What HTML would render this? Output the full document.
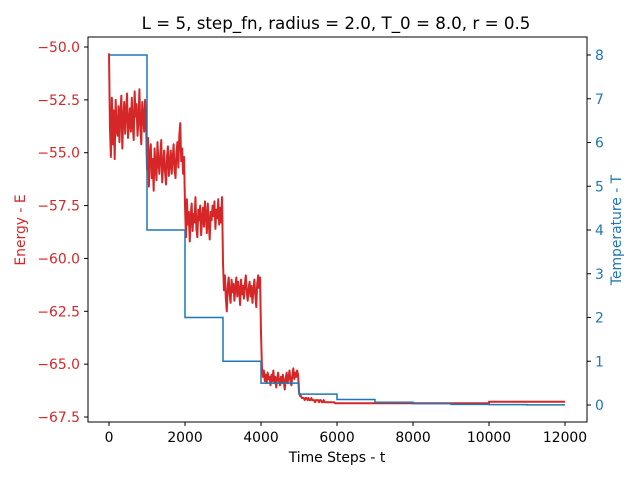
<!DOCTYPE html>
<html><head><meta charset="utf-8"><style>
body{margin:0;background:#fff;font-family:"DejaVu Sans","Liberation Sans",sans-serif}
svg text{font-family:"DejaVu Sans","Liberation Sans",sans-serif}
</style></head><body>
<svg id="chart" width="640" height="480" xmlns="http://www.w3.org/2000/svg">
<rect width="640" height="480" fill="#fff"/>
<text x="336" y="29" font-size="16.7" text-anchor="middle">L = 5, step_fn, radius = 2.0, T_0 = 8.0, r = 0.5</text>
<g id="plot"></g>
<rect x="88" y="37" width="499" height="385" fill="none" stroke="#000" stroke-width="1"/>
<text x="337" y="462" font-size="13.9" text-anchor="middle">Time Steps - t</text>
<text transform="translate(25,230) rotate(-90)" font-size="13.9" fill="#d62728" text-anchor="middle">Energy - E</text>
<text transform="translate(621,230) rotate(-90)" font-size="13.9" fill="#1f77b4" text-anchor="middle">Temperature - T</text>
</svg>
<script>
const xTicks=[0,2000,4000,6000,8000,10000,12000];
const eTicks=[-50,-52.5,-55,-57.5,-60,-62.5,-65,-67.5];
const eTickLabels=["−50.0","−52.5","−55.0","−57.5","−60.0","−62.5","−65.0","−67.5"];
const tTicks=[0,1,2,3,4,5,6,7,8];
const energyStep=25;
const energy=[
-50.3,-53.8,-55.2,-52.4,-54.6,-53.0,-55.3,-52.5,-53.9,-54.2,-52.8,-54.5,-53.1,-52.3,-54.8,-53.4,-52.6,-54.1,-53.0,-52.2,-54.3,-53.6,-52.9,-54.0,-52.4,-53.7,-54.4,-52.1,-53.3,-52.7,-54.2,-53.5,-52.0,-53.8,-54.6,-52.6,-53.2,-54.0,-52.5,-53.4,
-55.8,-54.3,-56.6,-55.0,-54.6,-56.2,-55.3,-56.8,-54.8,-55.7,-56.3,-54.5,-55.4,-56.0,-55.1,-54.4,-56.4,-55.6,-54.9,-55.9,-56.5,-55.2,-54.7,-56.1,-55.5,-54.9,-56.0,-55.3,-54.6,-55.8,-56.2,-55.0,-54.5,-55.7,-54.2,-53.6,-55.4,-54.8,-56.0,-55.2,
-57.5,-59.0,-57.2,-58.4,-57.8,-59.2,-58.0,-57.4,-58.7,-57.9,-58.3,-57.1,-58.6,-59.0,-57.7,-58.2,-57.5,-58.9,-58.1,-57.6,-58.5,-57.3,-58.0,-58.8,-57.4,-58.3,-59.1,-57.8,-58.2,-57.5,-58.0,-57.3,-58.6,-57.7,-58.1,-57.2,-58.4,-57.6,-58.3,-57.1,
-60.2,-61.5,-60.8,-61.9,-62.5,-61.3,-60.9,-61.7,-62.1,-61.0,-61.6,-61.2,-62.0,-61.4,-60.9,-61.8,-61.1,-61.5,-62.2,-61.0,-61.7,-61.3,-61.9,-61.2,-60.8,-61.6,-62.0,-61.4,-61.1,-61.8,-61.3,-62.1,-61.5,-61.0,-61.7,-62.3,-61.2,-60.8,-61.4,-60.9,
-63.5,-65.2,-65.6,-65.3,-65.8,-65.5,-65.9,-65.4,-65.7,-65.6,-66.0,-65.5,-65.8,-65.3,-65.9,-65.6,-66.1,-65.7,-65.4,-65.8,-66.0,-65.6,-65.9,-65.5,-65.8,-66.2,-65.7,-65.4,-65.9,-65.6,-65.3,-65.8,-66.0,-65.5,-65.2,-65.7,-65.4,-65.6,-65.3,-65.5,
-66.3,-66.5,-66.5,-66.6,-66.6,-66.6,-66.7,-66.6,-66.6,-66.7,-66.6,-66.7,-66.7,-66.6,-66.7,-66.7,-66.7,-66.8,-66.7,-66.7,-66.7,-66.8,-66.7,-66.7,-66.8,-66.8,-66.7,-66.8,-66.8,-66.8,-66.8,-66.8,-66.8,-66.8,-66.8,-66.8,-66.8,-66.8,-66.85,-66.85,
-66.85];
const tailTimes=[10000,10000,12000];
const tailValues=[-66.85,-66.78,-66.78];
const tempStarts=[0,1000,2000,3000,4000,5000,6000,7000,8000,9000,10000,11000];
const tempValues=[8,4,2,1,0.5,0.25,0.125,0.0625,0.03125,0.015625,0.0078125,0.00390625];
const tempEnd=12000;

const NS="http://www.w3.org/2000/svg";
const X=t=>109+(t/12000)*456;
const YE=e=>47+(-50-e)/2.5*52.86;
const YT=v=>405-v*43.75;
const g=document.getElementById('plot');
function mk(tag,attrs){const el=document.createElementNS(NS,tag);for(const k in attrs)el.setAttribute(k,attrs[k]);g.appendChild(el);return el;}

let pts=energy.map((e,i)=>X(i*energyStep).toFixed(2)+","+YE(e).toFixed(2));
tailTimes.forEach((t,i)=>pts.push(X(t).toFixed(2)+","+YE(tailValues[i]).toFixed(2)));
const eLine=mk('polyline',{points:pts.join(" "),fill:"none",stroke:"#d62728","stroke-width":2,"stroke-linejoin":"round"});



let tp=[];
tempStarts.forEach((s,i)=>{const end=i+1<tempStarts.length?tempStarts[i+1]:tempEnd;tp.push(X(s)+","+YT(tempValues[i]));tp.push(X(end)+","+YT(tempValues[i]));});
const tLine=mk('polyline',{points:tp.join(" "),fill:"none",stroke:"#1f77b4","stroke-width":1.5});



xTicks.forEach(t=>{
  mk('line',{x1:X(t),x2:X(t),y1:422,y2:426,stroke:"#000"});
  const tx=mk('text',{x:X(t),y:442,"font-size":13.9,"text-anchor":"middle"});tx.textContent=t;
  
  
});
eTicks.forEach((e,i)=>{
  mk('line',{x1:84,x2:88,y1:YE(e),y2:YE(e),stroke:"#000"});
  const tx=mk('text',{x:80,y:YE(e)+5,"font-size":13.9,"text-anchor":"end",fill:"#d62728"});tx.textContent=eTickLabels[i];
  
  
});
tTicks.forEach(v=>{
  mk('line',{x1:587,x2:591,y1:YT(v),y2:YT(v),stroke:"#000"});
  const tx=mk('text',{x:595,y:YT(v)+5,"font-size":13.9,fill:"#1f77b4"});tx.textContent=v;
  
  
});
</script>
</body></html>
